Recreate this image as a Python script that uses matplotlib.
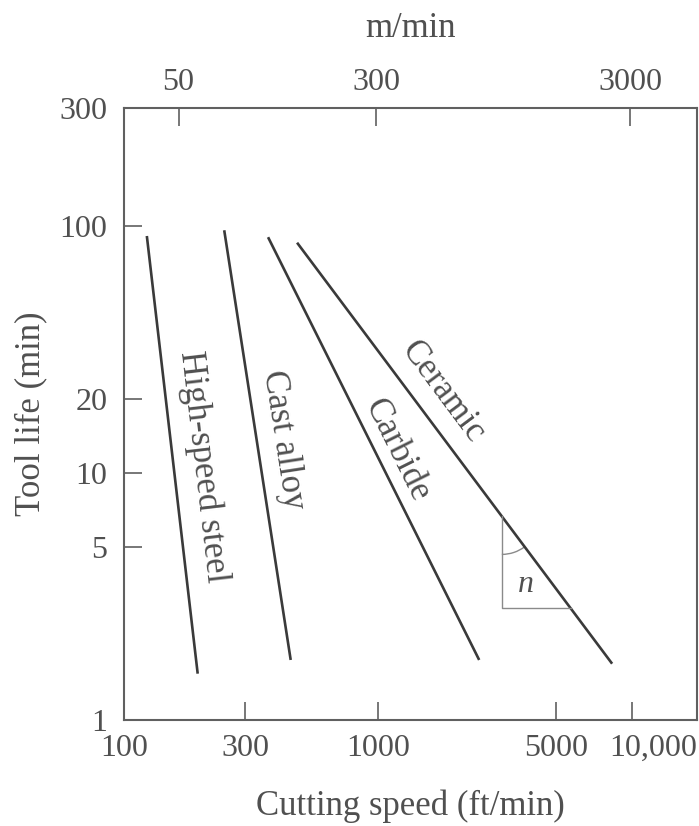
import numpy as np
import matplotlib
matplotlib.use("Agg")
import matplotlib.pyplot as plt
from matplotlib.patches import Arc
from matplotlib.transforms import ScaledTranslation

plt.rcParams['font.family'] = ['Liberation Serif', 'DejaVu Serif']
plt.rcParams['mathtext.fontset'] = 'custom'
plt.rcParams['mathtext.it'] = 'Liberation Serif:italic'

# ---- data ----
materials = ["High-speed steel", "Cast alloy", "Carbide", "Ceramic"]
speed_start = [123, 248, 369, 480]        # ft/min at upper end
speed_end = [195, 453, 2500, 8340]        # ft/min at lower end
life_start = [91, 96, 90, 85.5]           # min at upper end
life_end = [1.54, 1.75, 1.75, 1.69]       # min at lower end

label_speed = [205, 423, 1189, 1803]
label_life = [10.6, 13.6, 12.3, 21.3]

tri_speed = [3070, 3070, 5730]
tri_life = [6.67, 2.83, 2.83]
n_speed, n_life = 3793, 3.53

x_ticks = [100, 300, 1000, 5000, 10000]
x_ticklabels = ["100", "300", "1000", "5000", "10,000"]
y_ticks = [1, 5, 10, 20, 100, 300]
y_ticklabels = ["1", "5", "10", "20", "100", "300"]
top_ticks = [50, 300, 3000]
top_ticklabels = ["50", "300", "3000"]
FT_PER_M = 3.281

TXT = "#505050"
LINE = "#3a3a3a"
FS_TICK = 23
FS_LAB = 25

fig = plt.figure(figsize=(6.99, 8.26), dpi=100)
ax = fig.add_axes([124/699, 1 - 720/826, (697-124)/699, (720-108)/826])
ax.set_xscale("log")
ax.set_yscale("log")
ax.set_xlim(100, 18000)
ax.set_ylim(1, 300)

for i, m in enumerate(materials):
    ax.plot([speed_start[i], speed_end[i]], [life_start[i], life_end[i]],
            color=LINE, lw=1.9, solid_capstyle="butt")

ax.plot(tri_speed, tri_life, color="#8a8a8a", lw=1.0)

fig.canvas.draw()

def disp_angle(i):
    p0 = ax.transData.transform((speed_start[i], life_start[i]))
    p1 = ax.transData.transform((speed_end[i], life_end[i]))
    return np.degrees(np.arctan2(p1[1] - p0[1], p1[0] - p0[0]))

for i, m in enumerate(materials):
    ang = disp_angle(i)
    ax.text(label_speed[i], label_life[i], m, rotation=ang, rotation_mode="anchor",
            ha="center", va="center", fontsize=FS_LAB, color=TXT)

# angle arc at the top vertex of the triangle
ang_c = disp_angle(3) % 360
arc = Arc((0, 0), 0.76, 0.76, theta1=270, theta2=ang_c, color="#8a8a8a", lw=1.0,
          transform=fig.dpi_scale_trans + ScaledTranslation(tri_speed[0], tri_life[0], ax.transData))
ax.add_patch(arc)
ax.text(n_speed, n_life, r"$\mathit{n}$", fontsize=FS_TICK, color=TXT, ha="center", va="center")

ax.set_xticks(x_ticks)
ax.set_xticklabels(x_ticklabels)
ax.set_yticks(y_ticks)
ax.set_yticklabels(y_ticklabels)
ax.minorticks_off()
ax.tick_params(direction="in", length=13, width=1.2, colors="#606060",
               labelcolor=TXT, labelsize=FS_TICK, pad=10)
ax.tick_params(axis="y", pad=12)

for s in ax.spines.values():
    s.set_color("#606060")
    s.set_linewidth(1.5)

ax.set_xlabel("Cutting speed (ft/min)", fontsize=FS_LAB, color=TXT, labelpad=19)
ax.set_ylabel("Tool life (min)", fontsize=FS_LAB, color=TXT, labelpad=9)

sec = ax.secondary_xaxis("top", functions=(lambda v: v / FT_PER_M, lambda v: v * FT_PER_M))
sec.set_xticks(top_ticks)
sec.set_xticklabels(top_ticklabels)
sec.minorticks_off()
sec.tick_params(direction="in", length=13, width=1.2, colors="#606060",
                labelcolor=TXT, labelsize=FS_TICK, pad=8)
sec.spines["top"].set_visible(False)
sec.set_xlabel("m/min", fontsize=FS_LAB, color=TXT, labelpad=22)

fig.canvas.draw()
# the last bottom label sits to the right of its tick, as in the reference
last = ax.xaxis.get_major_ticks()[-1].label1
last.set_transform(last.get_transform() + ScaledTranslation(0.21, 0, fig.dpi_scale_trans))

fig.savefig("out.png", dpi=100)
